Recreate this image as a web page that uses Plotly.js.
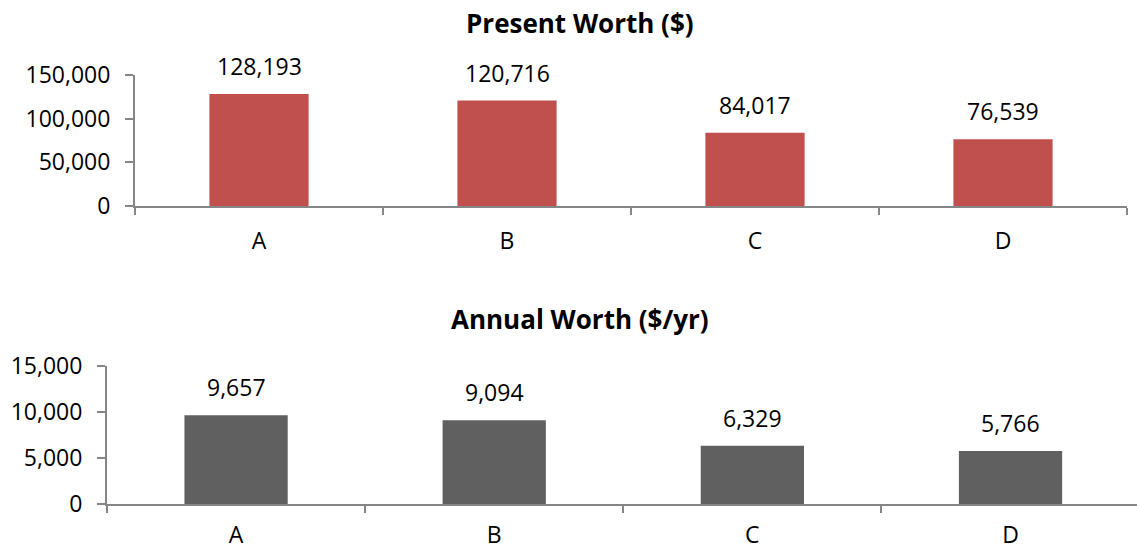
<!DOCTYPE html>
<html>
<head>
<meta charset="utf-8">
<script src="https://cdn.plot.ly/plotly-3.0.1.min.js"></script>
<style>html,body{margin:0;padding:0;background:#fff;}#chart{width:1137px;height:550px;}</style>
</head>
<body>
<div id="chart"></div>
<script>
const categories = ["A", "B", "C", "D"];
const presentWorth = [128193, 120716, 84017, 76539];
const annualWorth = [9657, 9094, 6329, 5766];
const titles = ["Present Worth ($)", "Annual Worth ($/yr)"];

const W = 1137, H = 550;
const FONT = "Open Sans, Lato, sans-serif";
const axisColor = "#868686";
const fmt = v => v.toLocaleString("en-US");

const traces = [
  {type: "bar", x: categories, y: presentWorth, xaxis: "x", yaxis: "y",
   marker: {color: "#C0504D"}, width: 0.4, hoverinfo: "x+y"},
  {type: "bar", x: categories, y: annualWorth, xaxis: "x2", yaxis: "y2",
   marker: {color: "#606060"}, width: 0.4, hoverinfo: "x+y"}
];

const annotations = [];
categories.forEach((c, i) => {
  annotations.push({x: c, y: presentWorth[i], xref: "x", yref: "y", text: fmt(presentWorth[i]),
    showarrow: false, yanchor: "bottom", yshift: 10, font: {family: FONT, size: 23, color: "#000"}});
  annotations.push({x: c, y: annualWorth[i], xref: "x2", yref: "y2", text: fmt(annualWorth[i]),
    showarrow: false, yanchor: "bottom", yshift: 10, font: {family: FONT, size: 23, color: "#000"}});
});
annotations.push({x: 580 / W, y: 1 - 23 / H, xref: "paper", yref: "paper", text: "<b>" + titles[0] + "</b>",
  showarrow: false, xanchor: "center", yanchor: "middle", font: {family: FONT, size: 26, color: "#000"}});
annotations.push({x: 580 / W, y: 1 - 319 / H, xref: "paper", yref: "paper", text: "<b>" + titles[1] + "</b>",
  showarrow: false, xanchor: "center", yanchor: "middle", font: {family: FONT, size: 26, color: "#000"}});

const xCommon = {
  type: "category", showline: true, linecolor: axisColor, linewidth: 2,
  ticks: "outside", tickson: "boundaries", ticklen: 7, tickcolor: axisColor, tickwidth: 2,
  showgrid: false, zeroline: false, ticklabelstandoff: 13,
  tickfont: {family: FONT, size: 23, color: "#000"}, fixedrange: true
};
const yCommon = {
  showline: true, linecolor: axisColor, linewidth: 2, ticks: "outside", ticklen: 8,
  tickcolor: axisColor, tickwidth: 2, showgrid: false, zeroline: false,
  tickformat: ",d", ticklabelstandoff: 10, tickfont: {family: FONT, size: 23, color: "#000"}, fixedrange: true
};

const layout = {
  width: W, height: H, margin: {l: 0, r: 0, t: 0, b: 0},
  paper_bgcolor: "#fff", plot_bgcolor: "#fff", showlegend: false,
  xaxis: Object.assign({}, xCommon, {domain: [135 / W, 1127 / W], range: [-0.5, 3.5], anchor: "y"}),
  yaxis: Object.assign({}, yCommon, {domain: [1 - 206 / H, 1 - 75 / H], range: [0, 150000], dtick: 50000, anchor: "x"}),
  xaxis2: Object.assign({}, xCommon, {domain: [107 / W, 1], range: [-0.5, 3.49], anchor: "y2", ticklabelstandoff: 9}),
  yaxis2: Object.assign({}, yCommon, {domain: [1 - 504 / H, 1 - 366 / H], range: [0, 15000], dtick: 5000, anchor: "x2"}),
  annotations: annotations
};

Plotly.newPlot("chart", traces, layout, {displayModeBar: false, staticPlot: true});
</script>
</body>
</html>
